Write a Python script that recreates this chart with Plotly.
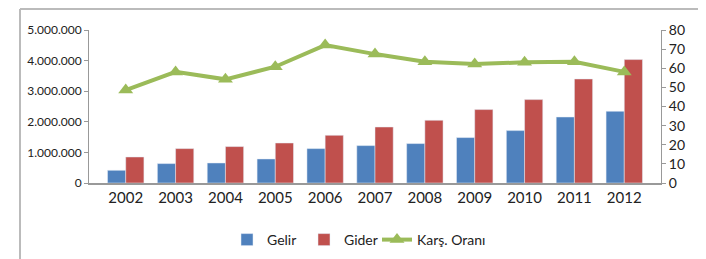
import plotly.graph_objects as go

years = ["2002", "2003", "2004", "2005", "2006", "2007", "2008", "2009", "2010", "2011", "2012"]
gelir = [415000, 634000, 654000, 785000, 1124000, 1222000, 1288000, 1484000, 1712000, 2157000, 2343000]
gider = [850000, 1124000, 1190000, 1307000, 1559000, 1830000, 2049000, 2399000, 2725000, 3399000, 4033000]
kars_orani = [48.6, 58.1, 54.2, 60.8, 72.1, 67.4, 63.4, 62.2, 63.1, 63.4, 58.1]

left_tickvals = [0, 1000000, 2000000, 3000000, 4000000, 5000000]
left_ticktext = ["0", "1.000.000", "2.000.000", "3.000.000", "4.000.000", "5.000.000"]
right_tickvals = [0, 10, 20, 30, 40, 50, 60, 70, 80]

FONT = "Lato"
OFF = 8  # default page body margin

fig = go.Figure()
fig.add_trace(go.Bar(x=years, y=gelir, name="Gelir", marker_color="#4F81BD", legend="legend"))
fig.add_trace(go.Bar(x=years, y=gider, name="Gider", marker_color="#C0504D", legend="legend2"))
fig.add_trace(go.Scatter(x=years, y=kars_orani, name="Karş. Oranı", yaxis="y2",
                         mode="lines+markers", legend="legend3",
                         line=dict(color="#9BBB59", width=4),
                         marker=dict(symbol="triangle-up", size=13, color="#9BBB59")))

def leg(xpix):
    return dict(orientation="h", xref="container", yref="container",
                x=(xpix - OFF) / 706, xanchor="left", y=1 - (240 - OFF) / 259,
                yanchor="middle", itemwidth=30, bgcolor="rgba(0,0,0,0)",
                font=dict(size=14, family=FONT))

fig.update_layout(
    width=706, height=259,
    margin=dict(l=89 - OFF, r=45 + OFF, t=30 - OFF, b=76 + OFF, autoexpand=False),
    paper_bgcolor="white", plot_bgcolor="white",
    font=dict(family=FONT, color="#222", size=13),
    barmode="group", bargap=0.27, bargroupgap=0,
    showlegend=True,
    legend=leg(227),
    legend2=leg(304),
    legend3=leg(377),
    xaxis=dict(showline=True, linecolor="#999", linewidth=1.5, ticks="",
               tickfont=dict(size=15), showgrid=False, automargin=False),
    yaxis=dict(range=[0, 5000000], tickvals=left_tickvals, ticktext=left_ticktext,
               showline=True, linecolor="#999", linewidth=1, ticks="outside",
               ticklen=4, tickcolor="#999", showgrid=False, zeroline=False,
               tickfont=dict(size=12), automargin=False),
    yaxis2=dict(range=[0, 80], tickvals=right_tickvals, overlaying="y", side="right",
                showline=True, linecolor="#999", linewidth=1, ticks="outside",
                ticklen=4, tickcolor="#999", showgrid=False, zeroline=False,
                tickfont=dict(size=14), automargin=False),
    shapes=[
        dict(type="line", xref="paper", yref="paper", x0=-69/572, x1=1+41/572,
             y0=1+21/153, y1=1+21/153, line=dict(color="#BBB", width=2)),
        dict(type="line", xref="paper", yref="paper", x0=-69/572, x1=-69/572,
             y0=1+21/153, y1=-80/153, line=dict(color="#BBB", width=2)),
        dict(type="line", xref="paper", yref="paper", x0=1+41/572, x1=1+41/572,
             y0=1+21/153, y1=-80/153, line=dict(color="#BBB", width=2)),
    ],
)

fig.write_html("out.html")
